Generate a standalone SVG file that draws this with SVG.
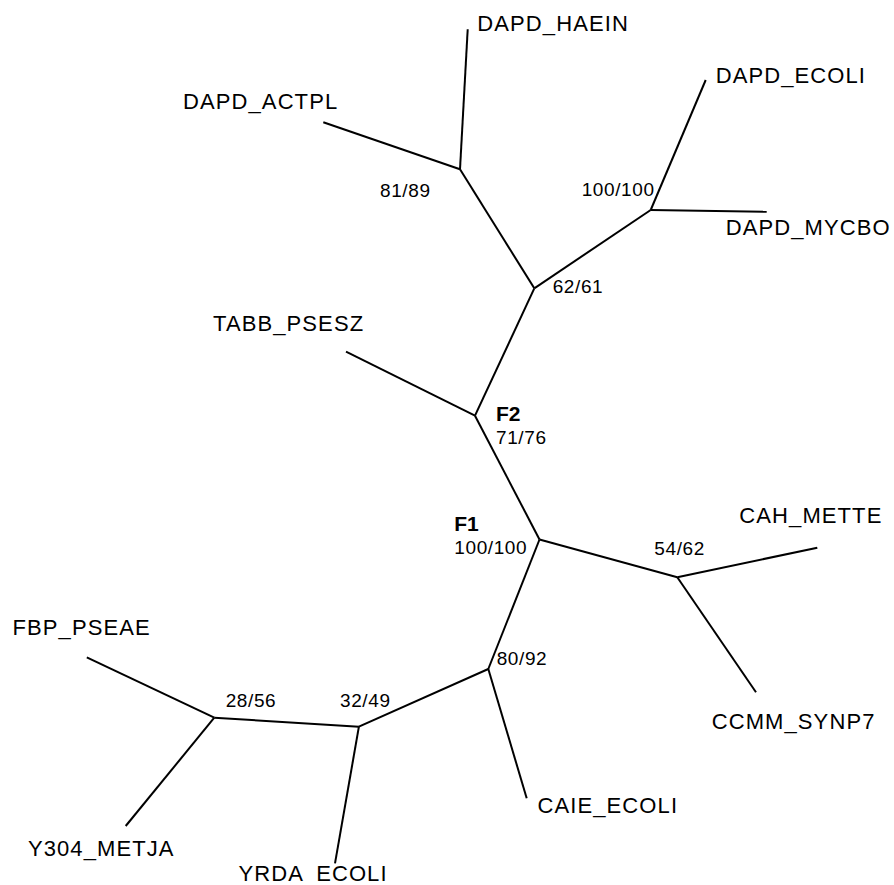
<svg xmlns="http://www.w3.org/2000/svg" width="894" height="885" viewBox="0 0 894 885">
<style>
.bg{fill:#fff}
.e{stroke:#000;stroke-width:2;fill:none;stroke-linecap:butt;stroke-linejoin:round}
.leaf{font-family:"Liberation Sans",Arial,Helvetica,sans-serif;font-size:22px;letter-spacing:1.1px;fill:#000}
.sup{font-family:"Liberation Sans",Arial,Helvetica,sans-serif;font-size:19px;letter-spacing:0.6px;fill:#000}
.fl{font-family:"Liberation Sans",Arial,Helvetica,sans-serif;font-size:21px;font-weight:bold;fill:#000}
</style>
<rect class="bg" x="0" y="0" width="894" height="885"/>
<g id="connectors">
<line class="e" x1="467.7" y1="29.3" x2="460" y2="169.3"/>
<line class="e" x1="323.3" y1="122.3" x2="460" y2="169.3"/>
<line class="e" x1="460" y1="169.3" x2="534.3" y2="288.3"/>
<line class="e" x1="534.3" y1="288.3" x2="650.7" y2="210"/>
<line class="e" x1="650.7" y1="210" x2="705.7" y2="80"/>
<line class="e" x1="650.7" y1="210" x2="766.7" y2="211.7"/>
<line class="e" x1="534.3" y1="288.3" x2="475" y2="415.7"/>
<line class="e" x1="475" y1="415.7" x2="346" y2="351.7"/>
<line class="e" x1="475" y1="415.7" x2="539.5" y2="539.5"/>
<line class="e" x1="539.5" y1="539.5" x2="677.3" y2="577.3"/>
<line class="e" x1="677.3" y1="577.3" x2="817.3" y2="547.7"/>
<line class="e" x1="677.3" y1="577.3" x2="756" y2="692.3"/>
<line class="e" x1="539.5" y1="539.5" x2="488.3" y2="669"/>
<line class="e" x1="488.3" y1="669" x2="526.7" y2="798.3"/>
<line class="e" x1="488.3" y1="669" x2="358.9" y2="726.7"/>
<line class="e" x1="358.9" y1="726.7" x2="335" y2="863.3"/>
<line class="e" x1="358.9" y1="726.7" x2="214.3" y2="717.7"/>
<line class="e" x1="214.3" y1="717.7" x2="86.8" y2="657.3"/>
<line class="e" x1="214.3" y1="717.7" x2="125.7" y2="826"/>
</g>
<g id="DAPD_HAEIN"><text class="leaf" x="477.3" y="31">DAPD_HAEIN</text></g>
<g id="DAPD_ACTPL"><text class="leaf" x="183" y="109">DAPD_ACTPL</text></g>
<g id="DAPD_ECOLI"><text class="leaf" x="715.7" y="83.3">DAPD_ECOLI</text></g>
<g id="DAPD_MYCBO"><text class="leaf" x="725.7" y="235">DAPD_MYCBO</text></g>
<g id="TABB_PSESZ"><text class="leaf" x="213" y="330.7">TABB_PSESZ</text></g>
<g id="CAH_METTE"><text class="leaf" x="739.3" y="523.3">CAH_METTE</text></g>
<g id="CCMM_SYNP7"><text class="leaf" x="711.7" y="729.3">CCMM_SYNP7</text></g>
<g id="CAIE_ECOLI"><text class="leaf" x="537.5" y="813">CAIE_ECOLI</text></g>
<g id="FBP_PSEAE"><text class="leaf" x="12.5" y="635">FBP_PSEAE</text></g>
<g id="Y304_METJA"><text class="leaf" x="27.9" y="856">Y304_METJA</text></g>
<g id="YRDA_ECOLI"><text class="leaf" x="238.6" y="880.5">YRDA <tspan dx="6">ECOLI</tspan></text></g>
<g id="n81_89"><text class="sup" x="380" y="196.7">81/89</text></g>
<g id="n62_61"><text class="sup" x="552.7" y="293.3">62/61</text></g>
<g id="n100_100a"><text class="sup" x="581.7" y="196">100/100</text></g>
<g id="F2"><text class="fl" x="496" y="420.7">F2</text><text class="sup" x="496" y="444">71/76</text></g>
<g id="F1"><text class="fl" x="454.3" y="531">F1</text><text class="sup" x="454.3" y="554">100/100</text></g>
<g id="n54_62"><text class="sup" x="654.3" y="555">54/62</text></g>
<g id="n80_92"><text class="sup" x="496.7" y="665">80/92</text></g>
<g id="n28_56"><text class="sup" x="225.7" y="707.3">28/56</text></g>
<g id="n32_49"><text class="sup" x="340" y="707.3">32/49</text></g>
</svg>
